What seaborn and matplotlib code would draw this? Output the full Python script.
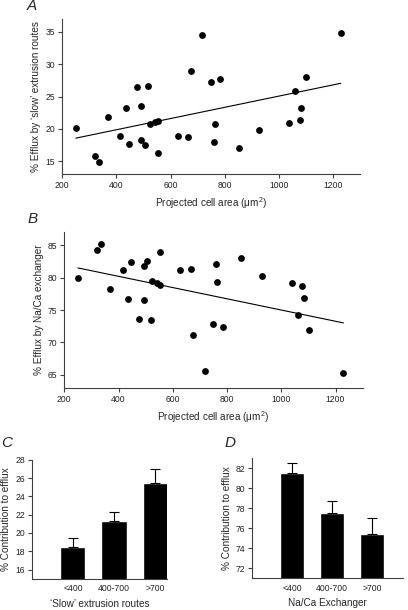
import numpy as np
import pandas as pd
import matplotlib
matplotlib.use("Agg")
import matplotlib.pyplot as plt
import seaborn as sns

# ---- data ----
cell_area = [250, 319, 337, 370, 415, 436, 445, 476, 492, 492, 505, 518, 524, 541, 554, 554,
             626, 666, 676, 717, 749, 759, 763, 784, 853, 928, 1039, 1060, 1078, 1082, 1102, 1229]
slow_efflux = [20.05, 15.72, 14.8, 21.85, 18.87, 23.25, 17.58, 26.44, 23.56, 18.25, 17.47, 26.55,
               20.67, 21.03, 21.24, 16.24, 18.92, 18.76, 28.92, 34.48, 27.22, 17.99, 20.77, 27.73,
               17.0, 19.79, 20.88, 25.82, 21.39, 23.25, 28.09, 34.8]
naca_efflux = [79.99, 84.33, 85.2, 78.18, 81.18, 76.73, 82.47, 73.63, 81.8, 76.47, 82.57, 73.48,
               79.42, 79.1, 78.85, 83.9, 81.12, 81.28, 71.15, 65.57, 72.9, 82.05, 79.3, 72.34,
               83.04, 80.25, 79.1, 74.2, 78.64, 76.83, 71.97, 65.26]
groups = ["<400", "400-700", ">700"]
slow_mean = [18.5, 21.3, 25.5]
slow_sem = [0.95, 1.0, 1.5]
naca_mean = [81.55, 77.55, 75.45]
naca_sem = [0.95, 1.15, 1.6]

sns.set_theme(style="ticks")
plt.rcParams["font.family"] = ["Liberation Sans", "DejaVu Sans"]
plt.rcParams["mathtext.fontset"] = "custom"
plt.rcParams["mathtext.rm"] = "Liberation Sans"
plt.rcParams["mathtext.it"] = "Liberation Sans:italic"

W, H = 408, 610
fig = plt.figure(figsize=(W / 100, H / 100), dpi=100)

def axrect(l, t, r, b):
    return fig.add_axes([l / W, 1 - b / H, (r - l) / W, (b - t) / H])

axA = axrect(62.3, 19, 360, 174)
axB = axrect(64.3, 232.3, 362.7, 387.7)
axC = axrect(32.3, 459.7, 167, 578.7)
axD = axrect(252.3, 458.3, 403, 578)

LAB = 7.2
TICK = 6.2
spine_col = "#404040"

def style(ax, xticks=True):
    sns.despine(ax=ax)
    for s in ("left", "bottom"):
        ax.spines[s].set_linewidth(0.8)
        ax.spines[s].set_color(spine_col)
    ax.tick_params(axis="both", labelsize=TICK, width=0.8, length=3, pad=2,
                   color=spine_col, labelcolor="#222222", direction="out")
    if not xticks:
        ax.tick_params(axis="x", length=0, pad=4)

dfA = pd.DataFrame({"area": cell_area, "slow": slow_efflux, "naca": naca_efflux})

for ax, col, ylim, yt, ylab in [
    (axA, "slow", (13, 37), [15, 20, 25, 30, 35], "% Efflux by \u2018slow\u2019 extrusion routes"),
    (axB, "naca", (63, 87), [65, 70, 75, 80, 85], "% Efflux by Na/Ca exchanger"),
]:
    sns.regplot(data=dfA, x="area", y=col, ax=ax, ci=None, color="black",
                scatter_kws=dict(s=24, linewidths=0, color="black", alpha=1),
                line_kws=dict(lw=0.8, color="black"))
    ax.set_xlim(200, 1300)
    ax.set_ylim(*ylim)
    ax.set_xticks([200, 400, 600, 800, 1000, 1200])
    ax.set_yticks(yt)
    ax.set_xlabel("Projected cell area (\u03bcm$^2$)", fontsize=LAB, labelpad=4)
    ax.set_ylabel(ylab, fontsize=LAB, labelpad=3)
    style(ax)

for ax, means, sems, ylim, yt, xlab, xlim in [
    (axC, slow_mean, slow_sem, (15, 28), [16, 18, 20, 22, 24, 26, 28], "\u2018Slow\u2019 extrusion routes", (-0.99, 2.29)),
    (axD, naca_mean, naca_sem, (71, 83), [72, 74, 76, 78, 80, 82], "Na/Ca Exchanger", (-1.0, 2.77)),
]:
    dfb = pd.DataFrame({"group": groups, "val": means})
    sns.barplot(data=dfb, x="group", y="val", ax=ax, color="black", width=0.61,
                errorbar=None, saturation=1)
    ax.errorbar(x=np.arange(len(groups)), y=means, yerr=[np.zeros(len(sems)), sems],
                fmt="none", ecolor="black", elinewidth=0.8, capsize=3.5, capthick=0.8)
    ax.set_ylim(*ylim)
    ax.set_xlim(*xlim)
    ax.set_yticks(yt)
    ax.set_xlabel(xlab, fontsize=LAB, labelpad=4)
    ax.set_ylabel("% Contribution to efflux", fontsize=LAB, labelpad=3)
    style(ax, xticks=False)

for x, y, t in [(32, 6, "A"), (33, 219, "B"), (7, 443, "C"), (230, 443, "D")]:
    fig.text(x / W, 1 - y / H, t, fontsize=11, style="italic", ha="center", va="center")

fig.savefig("out.png", dpi=100)
